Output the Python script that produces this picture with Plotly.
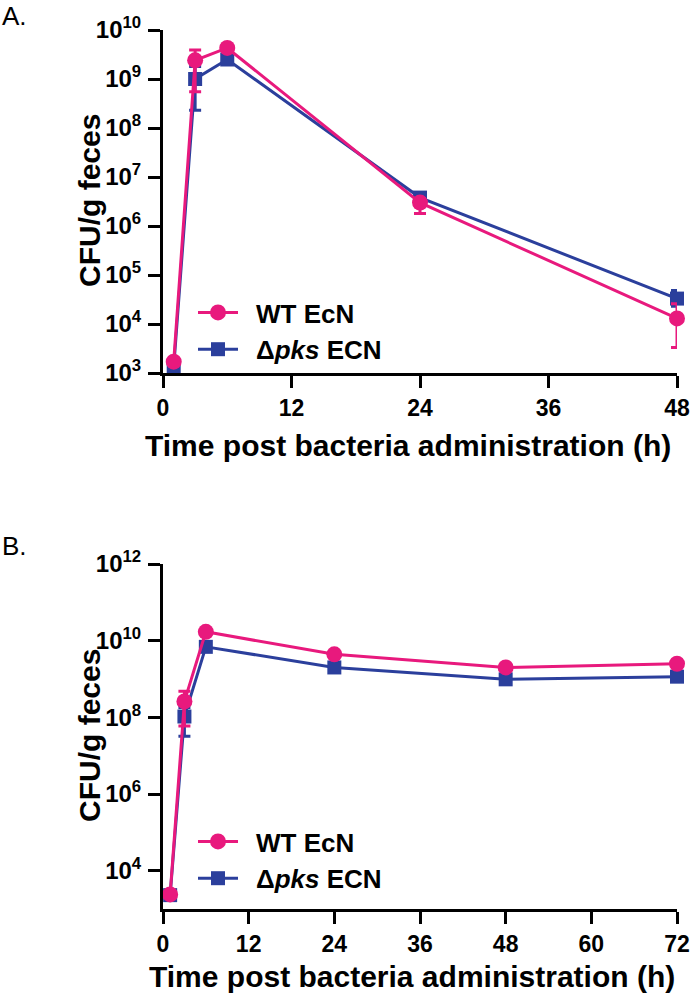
import plotly.graph_objects as go

# ---------------- data ----------------
# Panel A
time_a = [1, 3, 6, 24, 48]
wt_a = [1.7e3, 2.4e9, 4.3e9, 3.0e6, 1.3e4]
wt_a_hi = [1.9e3, 3.9e9, 4.8e9, 3.6e6, 2.6e4]
wt_a_lo = [1.5e3, 5.5e8, 3.8e9, 1.8e6, 3.3e3]
pks_a = [1.3e3, 1.0e9, 2.5e9, 3.8e6, 3.3e4]
pks_a_hi = [1.4e3, 1.8e9, 2.8e9, 4.8e6, 4.8e4]
pks_a_lo = [1.2e3, 2.3e8, 2.2e9, 2.8e6, 2.3e4]

# Panel B
time_b = [1, 3, 6, 24, 48, 72]
wt_b = [2.4e3, 2.6e8, 1.7e10, 4.4e9, 2.0e9, 2.5e9]
wt_b_hi = [2.6e3, 4.8e8, 1.9e10, 4.7e9, 2.1e9, 2.7e9]
wt_b_lo = [2.2e3, 5.9e7, 1.5e10, 4.1e9, 1.9e9, 2.3e9]
pks_b = [2.3e3, 1.05e8, 6.9e9, 2.0e9, 9.8e8, 1.15e9]
pks_b_hi = [2.5e3, 1.8e8, 7.4e9, 2.1e9, 1.05e9, 1.25e9]
pks_b_lo = [2.1e3, 3.2e7, 6.4e9, 1.9e9, 9.1e8, 1.05e9]

series_names = ["WT EcN", "Δ<i>pks</i> ECN"]
xticks_a = [0, 12, 24, 36, 48]
xticks_b = [0, 12, 24, 36, 48, 60, 72]
yexp_a = [3, 4, 5, 6, 7, 8, 9, 10]
yexp_b = [4, 6, 8, 10, 12]
x_title = "Time post bacteria administration (h)"
y_title = "CFU/g feces"

PINK = "#E8197D"
BLUE = "#2B3F9C"
FONT = "Liberation Sans, Arial, sans-serif"
GAP = "\u2002"  # small gap between legend symbol and text

def err(vals, hi, lo):
    return [h - v for v, h in zip(vals, hi)], [v - l for v, l in zip(vals, lo)]

fig = go.Figure()

def add(x, y, hi, lo, name, color, symbol, size, xa, ya, legend, rank):
    plus, minus = err(y, hi, lo)
    fig.add_trace(go.Scatter(
        x=x, y=y, name=GAP + name, mode="lines+markers",
        line=dict(color=color, width=3),
        marker=dict(color=color, symbol=symbol, size=size),
        error_y=dict(type="data", array=plus, arrayminus=minus, symmetric=False,
                     color=color, thickness=3, width=6),
        xaxis=xa, yaxis=ya, legend=legend, legendrank=rank, cliponaxis=False,
    ))

# blue drawn first so pink is on top
add(time_a, pks_a, pks_a_hi, pks_a_lo, series_names[1], BLUE, "square", 14, "x", "y", "legend", 2)
add(time_a, wt_a, wt_a_hi, wt_a_lo, series_names[0], PINK, "circle", 16, "x", "y", "legend", 1)
add(time_b, pks_b, pks_b_hi, pks_b_lo, series_names[1], BLUE, "square", 14, "x2", "y2", "legend2", 2)
add(time_b, wt_b, wt_b_hi, wt_b_lo, series_names[0], PINK, "circle", 16, "x2", "y2", "legend2", 1)

W, H = 690, 999
def px_x(p): return p / W
def px_y(p): return 1 - p / H

axis_common = dict(showline=True, linecolor="black", linewidth=3, ticks="outside",
                   ticklen=12, tickwidth=3, tickcolor="black", showgrid=False, zeroline=False,
                   ticklabeloverflow="allow", automargin=False)
yfont = dict(tickfont=dict(family=FONT, size=24, color="black", weight="bold"))
xfont = dict(tickfont=dict(family=FONT, size=23, color="black", weight="bold"))
leg_font = dict(family=FONT, size=26, color="black", weight="bold")

fig.update_layout(
    width=W, height=H, margin=dict(l=0, r=0, t=0, b=0, autoexpand=False),
    paper_bgcolor="white", plot_bgcolor="white",
    font=dict(family=FONT, color="black"),
    xaxis=dict(domain=[px_x(163), px_x(677)], range=[0, 48], tickvals=xticks_a,
               anchor="y", **axis_common, **xfont),
    yaxis=dict(domain=[px_y(373), px_y(30)], type="log", range=[3, 10],
               tickvals=[10 ** e for e in yexp_a],
               ticktext=[f"10<sup>{e}</sup>" for e in yexp_a],
               anchor="x", ticklabelstandoff=2, **axis_common, **yfont),
    xaxis2=dict(domain=[px_x(163), px_x(677)], range=[0, 72], tickvals=xticks_b,
                anchor="y2", **axis_common, **xfont),
    yaxis2=dict(domain=[px_y(909), px_y(564)], type="log", range=[3, 12],
                tickvals=[10 ** e for e in yexp_b],
                ticktext=[f"10<sup>{e}</sup>" for e in yexp_b],
                anchor="x2", ticklabelstandoff=2, **axis_common, **yfont),
    legend=dict(x=px_x(193), y=px_y(289), xanchor="left", yanchor="top",
                bgcolor="rgba(0,0,0,0)", font=leg_font, itemwidth=40, tracegroupgap=0),
    legend2=dict(x=px_x(193), y=px_y(818), xanchor="left", yanchor="top",
                 bgcolor="rgba(0,0,0,0)", font=leg_font, itemwidth=40, tracegroupgap=0),
    showlegend=True,
)

ann_font = dict(family=FONT, size=30, color="black", weight="bold")
fig.add_annotation(text=x_title, x=px_x(408), y=px_y(446), xref="paper", yref="paper",
                   showarrow=False, font=ann_font, xanchor="center", yanchor="middle")
fig.add_annotation(text=x_title, x=px_x(412), y=px_y(976), xref="paper", yref="paper",
                   showarrow=False, font=ann_font, xanchor="center", yanchor="middle")
fig.add_annotation(text=y_title, x=px_x(89), y=px_y(201), xref="paper", yref="paper",
                   showarrow=False, font=ann_font, textangle=-90, xanchor="center", yanchor="middle")
fig.add_annotation(text=y_title, x=px_x(89), y=px_y(736), xref="paper", yref="paper",
                   showarrow=False, font=ann_font, textangle=-90, xanchor="center", yanchor="middle")
fig.add_annotation(text="A.", x=0, y=px_y(16), xref="paper", yref="paper", showarrow=False,
                   font=dict(family=FONT, size=26, color="black"), xanchor="left", yanchor="middle")
fig.add_annotation(text="B.", x=0, y=px_y(546), xref="paper", yref="paper", showarrow=False,
                   font=dict(family=FONT, size=26, color="black"), xanchor="left", yanchor="middle")

page_js = (
    "var s=document.createElement('style');"
    "s.textContent='html,body{margin:0;padding:0;overflow:hidden;}';"
    "document.head.appendChild(s);"
)
fig.write_html("out.html", config={"displayModeBar": False}, post_script=page_js)
